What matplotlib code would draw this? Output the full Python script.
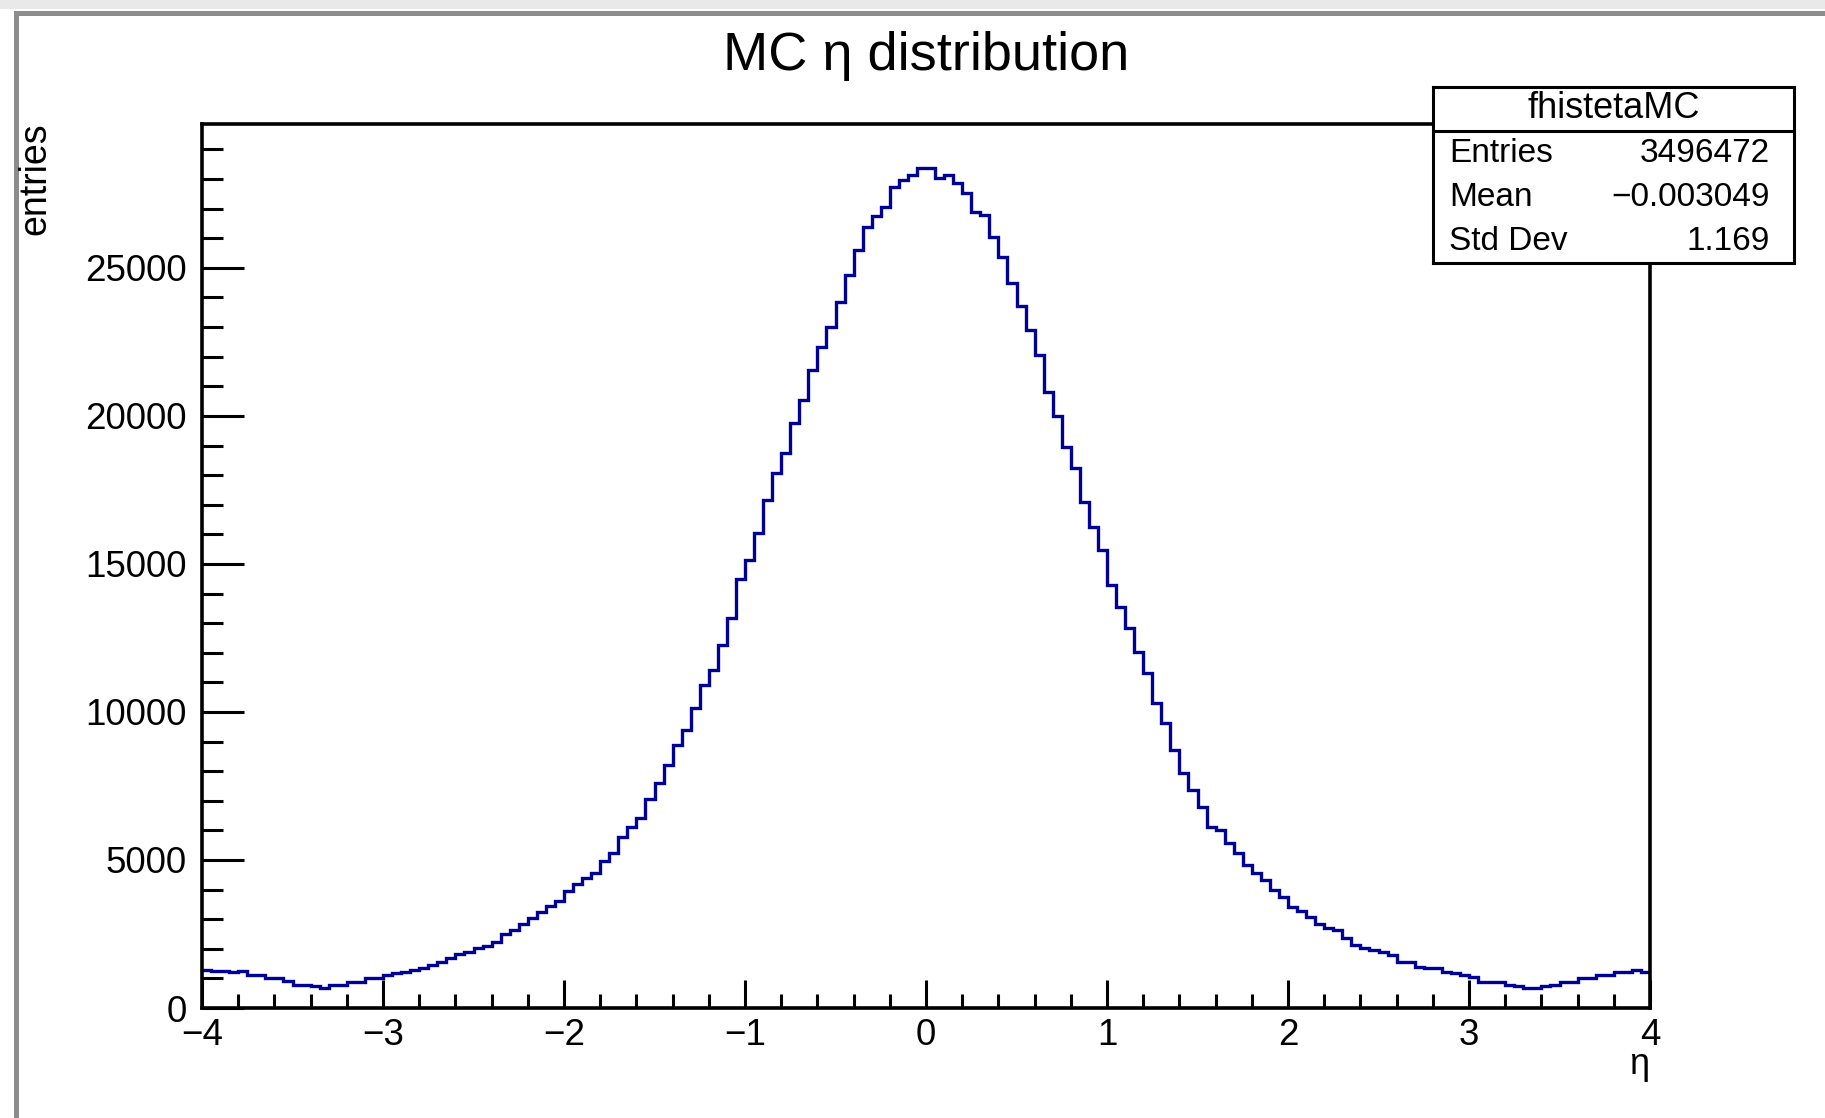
import numpy as np
import matplotlib
matplotlib.use("Agg")
import matplotlib.pyplot as plt
from matplotlib.ticker import MultipleLocator
from matplotlib.patches import Rectangle

plt.rcParams['font.family'] = ['Liberation Sans', 'DejaVu Sans']

# histogram range and contents (bin width 0.05)
eta_min = -4.0
eta_max = 4.0
counts = [
    1280, 1240, 1260, 1230, 1250, 1110, 1110, 1000, 1000, 900,
    780, 780, 760, 680, 780, 780, 890, 890, 1000, 1000,
    1110, 1170, 1230, 1280, 1340, 1450, 1560, 1680, 1820, 1900,
    2020, 2090, 2240, 2500, 2630, 2840, 3030, 3250, 3430, 3600,
    3950, 4200, 4380, 4550, 4960, 5240, 5770, 6100, 6410, 7060,
    7590, 8210, 8880, 9390, 10120, 10910, 11420, 12260, 13160, 14500,
    15130, 16030, 17160, 18060, 18740, 19750, 20540, 21550, 22340, 23010,
    23860, 24760, 25600, 26390, 26750, 27070, 27740, 27970, 28140, 28360,
    28360, 28030, 28140, 27880, 27520, 26900, 26790, 26050, 25380, 24500,
    23700, 22900, 22060, 20820, 19980, 18960, 18230, 17100, 16260, 15470,
    14300, 13550, 12830, 12040, 11300, 10290, 9620, 8720, 7930, 7360,
    6800, 6120, 6010, 5560, 5220, 4830, 4550, 4310, 3990, 3740,
    3420, 3280, 3085, 2840, 2710, 2630, 2350, 2130, 2010, 1960,
    1900, 1790, 1565, 1565, 1400, 1340, 1340, 1230, 1190, 1115,
    1060, 890, 890, 890, 780, 755, 665, 665, 755, 780,
    890, 890, 1000, 1000, 1115, 1115, 1230, 1230, 1300, 1230,
]
y_max = 29860

hist_name = "fhistetaMC"
stat_labels = ["Entries", "Mean", "Std Dev"]
stat_values = ["3496472", "\u22120.003049", "1.169"]

W, H = 1825, 1118
fig = plt.figure(figsize=(W / 100, H / 100), dpi=100)
fig.patch.set_facecolor("white")

# canvas border like ROOT
fig.add_artist(Rectangle((0, 1 - 9 / H), 1, 9 / H, transform=fig.transFigure,
                         facecolor="#e9e9e9", edgecolor="none"))
fig.add_artist(Rectangle((14 / W, 1 - 16 / H), 1, 5 / H, transform=fig.transFigure,
                         facecolor="#8c8c8c", edgecolor="none"))
fig.add_artist(Rectangle((14 / W, 0), 5 / W, 1 - 11 / H, transform=fig.transFigure,
                         facecolor="#8c8c8c", edgecolor="none"))

ax = fig.add_axes([202 / W, 1 - 1008 / H, (1650 - 202) / W, (1008 - 124) / H])
edges = np.linspace(eta_min, eta_max, len(counts) + 1)
ax.stairs(counts, edges, color="#000099", linewidth=2.4, baseline=None)

ax.set_xlim(eta_min, eta_max)
ax.set_ylim(0, y_max)
ax.xaxis.set_major_locator(MultipleLocator(1))
ax.xaxis.set_minor_locator(MultipleLocator(0.2))
ax.yaxis.set_major_locator(MultipleLocator(5000))
ax.yaxis.set_minor_locator(MultipleLocator(1000))
for s in ax.spines.values():
    s.set_linewidth(2.6)
ax.tick_params(axis="both", which="both", direction="in", width=2.2, labelsize=26.5)
ax.tick_params(axis="y", which="major", length=30, pad=11)
ax.tick_params(axis="y", which="minor", length=15)
ax.tick_params(axis="x", which="major", length=20, pad=7)
ax.tick_params(axis="x", which="minor", length=10)

fig.text(926 / W, 1 - 70 / H, "MC \u03b7 distribution", ha="center", va="baseline", fontsize=39)
fig.text(35 / W, 1 - 122 / H, "entries", rotation=90, ha="center", va="top", fontsize=27)
fig.text(1639 / W, 1 - 1065 / H, "\u03b7", ha="center", va="center", fontsize=26)

# stats box
sax = fig.add_axes([1433 / W, 1 - 263 / H, (1794 - 1433) / W, (263 - 87) / H])
sax.set_xlim(0, 1)
sax.set_ylim(0, 1)
sax.set_xticks([])
sax.set_yticks([])
sax.set_facecolor("white")
for s in sax.spines.values():
    s.set_linewidth(2.2)
sax.axhline(0.75, color="black", linewidth=2.2)
sax.text(0.5, 0.875, hist_name, ha="center", va="center", fontsize=26)
for i, (lab, val) in enumerate(zip(stat_labels, stat_values)):
    yy = 0.625 - 0.25 * i
    sax.text(0.044, yy, lab, ha="left", va="center", fontsize=24)
    sax.text(0.934, yy, val, ha="right", va="center", fontsize=24)

fig.savefig("out.png", dpi=100)
